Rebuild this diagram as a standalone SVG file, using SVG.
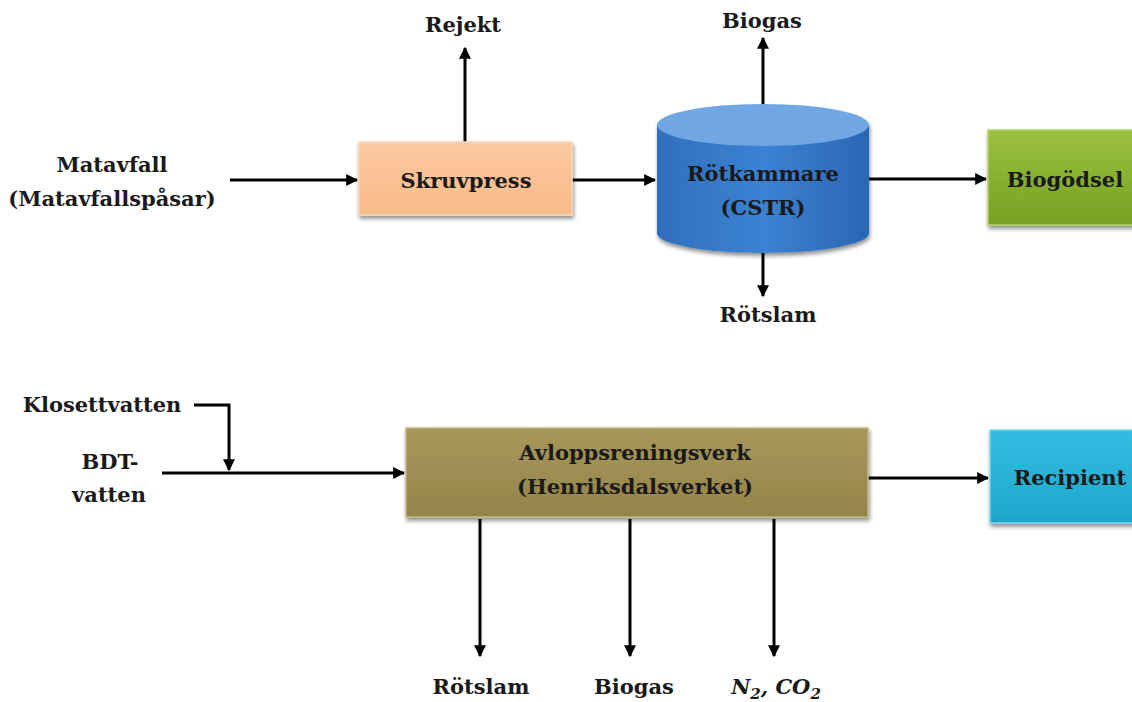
<svg xmlns="http://www.w3.org/2000/svg" width="1132" height="702" viewBox="0 0 1132 702">
<style>
text{font-family:"DejaVu Serif","Liberation Serif",serif;font-weight:bold;font-size:21px;fill:#1a1a1a;text-anchor:middle}
.ln{stroke:#000;stroke-width:3;fill:none}
.arr{marker-end:url(#ah)}
.box{stroke-width:1.5}
.math{font-style:italic;font-size:21px}
</style>
<defs>
<marker id="ah" viewBox="0 0 10 10" refX="9" refY="5" markerWidth="4" markerHeight="4" orient="auto" markerUnits="strokeWidth">
<path d="M0,0 L10,5 L0,10 z" fill="#000"/>
</marker>
<filter id="sh" x="-10%" y="-10%" width="125%" height="135%">
<feGaussianBlur in="SourceAlpha" stdDeviation="2"/>
<feOffset dx="1" dy="3"/>
<feComponentTransfer><feFuncA type="linear" slope="0.45"/></feComponentTransfer>
<feMerge><feMergeNode/><feMergeNode in="SourceGraphic"/></feMerge>
</filter>
<linearGradient id="gPeach" x1="0" y1="0" x2="0" y2="1"><stop offset="0" stop-color="#fcc9a0"/><stop offset="1" stop-color="#f8bb88"/></linearGradient>
<linearGradient id="gGreen" x1="0" y1="0" x2="0" y2="1"><stop offset="0" stop-color="#9bc23f"/><stop offset="1" stop-color="#76a023"/></linearGradient>
<linearGradient id="gOlive" x1="0" y1="0" x2="0" y2="1"><stop offset="0" stop-color="#a7975a"/><stop offset="1" stop-color="#948449"/></linearGradient>
<linearGradient id="gCyan" x1="0" y1="0" x2="0" y2="1"><stop offset="0" stop-color="#33bde0"/><stop offset="1" stop-color="#1ea6cc"/></linearGradient>
<linearGradient id="gBlue" x1="0" y1="0" x2="1" y2="0"><stop offset="0" stop-color="#2f6fbd"/><stop offset="0.5" stop-color="#3c82d2"/><stop offset="1" stop-color="#2a66b3"/></linearGradient>
</defs>

<g id="connectors">
<line class="ln arr" x1="230" y1="180" x2="357" y2="180"/>
<line class="ln arr" x1="465" y1="142" x2="465" y2="48"/>
<line class="ln arr" x1="572" y1="180" x2="655" y2="180"/>
<line class="ln arr" x1="763" y1="104" x2="763" y2="38"/>
<line class="ln arr" x1="763" y1="253" x2="763" y2="296"/>
<line class="ln arr" x1="868" y1="179" x2="986" y2="179"/>
<polyline class="ln arr" points="194,405 229,405 229,470"/>
<line class="ln arr" x1="162" y1="473" x2="404" y2="473"/>
<line class="ln arr" x1="868" y1="478" x2="988" y2="478"/>
<line class="ln arr" x1="480" y1="519" x2="480" y2="656"/>
<line class="ln arr" x1="630" y1="519" x2="630" y2="656"/>
<line class="ln arr" x1="774" y1="519" x2="774" y2="656"/>
</g>

<g id="matavfall">
<text x="112" y="172">Matavfall</text>
<text x="112" y="206">(Matavfallspåsar)</text>
</g>
<g id="rejekt"><text x="463" y="32">Rejekt</text></g>
<g id="skruvpress">
<rect class="box" x="359" y="142" width="213" height="73" fill="url(#gPeach)" stroke="#f3d6bd" filter="url(#sh)"/>
<text x="466" y="188">Skruvpress</text>
</g>
<g id="rotkammare">
<g filter="url(#sh)">
<path d="M657,125 L657,233 A106,20 0 0 0 869,233 L869,125 Z" fill="url(#gBlue)"/>
<ellipse cx="763" cy="125" rx="106" ry="21" fill="#6fa6e4"/>
</g>
<text x="763" y="181">Rötkammare</text>
<text x="763" y="215">(CSTR)</text>
</g>
<g id="biogas-top"><text x="762" y="28">Biogas</text></g>
<g id="rotslam-top"><text x="768" y="322">Rötslam</text></g>
<g id="biogodsel">
<rect class="box" x="988" y="130" width="150" height="95" fill="url(#gGreen)" stroke="#b5d36a" filter="url(#sh)"/>
<text x="1065" y="187">Biogödsel</text>
</g>

<g id="klosettvatten"><text x="102" y="412">Klosettvatten</text></g>
<g id="bdt">
<text x="110" y="469">BDT-</text>
<text x="109" y="502">vatten</text>
</g>
<g id="avlopp">
<rect class="box" x="406" y="428" width="462" height="89" fill="url(#gOlive)" stroke="#c4b67e" filter="url(#sh)"/>
<text x="635" y="460">Avloppsreningsverk</text>
<text x="635" y="494">(Henriksdalsverket)</text>
</g>
<g id="recipient">
<rect class="box" x="990" y="430" width="150" height="93" fill="url(#gCyan)" stroke="#7fd6ef" filter="url(#sh)"/>
<text x="1070" y="485">Recipient</text>
</g>
<g id="rotslam-bot"><text x="481" y="694">Rötslam</text></g>
<g id="biogas-bot"><text x="634" y="694">Biogas</text></g>
<g id="n2co2"><text class="math" x="776" y="694">N<tspan font-size="15" dy="5">2</tspan><tspan dy="-5">, CO</tspan><tspan font-size="15" dy="5">2</tspan></text></g>
</svg>
